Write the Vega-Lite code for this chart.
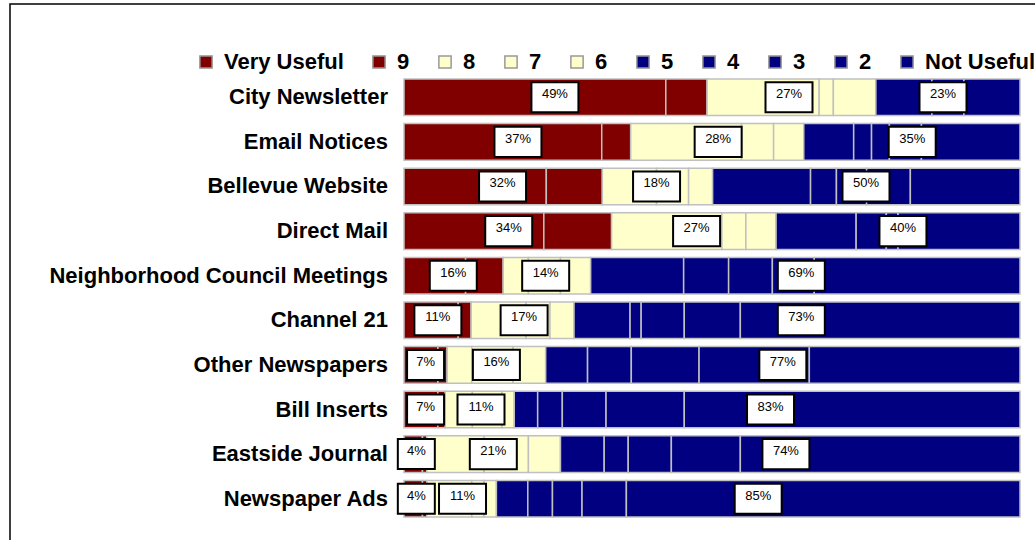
{
  "$schema": "https://vega.github.io/schema/vega-lite/v6.json",
  "width": 1025,
  "height": 536,
  "autosize": {"type": "none"},
  "padding": {"left": 10, "top": 4, "right": 0, "bottom": 0},
  "background": "white",
  "view": {"stroke": "black", "strokeWidth": 1.5, "strokeDash": [1025, 1561, 536]},
  "config": {"font": "Liberation Sans"},
  "datasets": {
    "bars": [
      {"item": "City Newsletter", "rating": "Very Useful", "score": 10, "share": 0.425},
      {"item": "City Newsletter", "rating": "9", "score": 9, "share": 0.067},
      {"item": "City Newsletter", "rating": "8", "score": 8, "share": 0.182},
      {"item": "City Newsletter", "rating": "7", "score": 7, "share": 0.023},
      {"item": "City Newsletter", "rating": "6", "score": 6, "share": 0.069},
      {"item": "City Newsletter", "rating": "5", "score": 5, "share": 0.091},
      {"item": "City Newsletter", "rating": "4", "score": 4, "share": 0.052},
      {"item": "City Newsletter", "rating": "3", "score": 3, "share": 0.0},
      {"item": "City Newsletter", "rating": "2", "score": 2, "share": 0.0},
      {"item": "City Newsletter", "rating": "Not Useful", "score": 1, "share": 0.091},

      {"item": "Email Notices", "rating": "Very Useful", "score": 10, "share": 0.321},
      {"item": "Email Notices", "rating": "9", "score": 9, "share": 0.047},
      {"item": "Email Notices", "rating": "8", "score": 8, "share": 0.180},
      {"item": "Email Notices", "rating": "7", "score": 7, "share": 0.052},
      {"item": "Email Notices", "rating": "6", "score": 6, "share": 0.049},
      {"item": "Email Notices", "rating": "5", "score": 5, "share": 0.081},
      {"item": "Email Notices", "rating": "4", "score": 4, "share": 0.029},
      {"item": "Email Notices", "rating": "3", "score": 3, "share": 0.029},
      {"item": "Email Notices", "rating": "2", "score": 2, "share": 0.052},
      {"item": "Email Notices", "rating": "Not Useful", "score": 1, "share": 0.160},

      {"item": "Bellevue Website", "rating": "Very Useful", "score": 10, "share": 0.231},
      {"item": "Bellevue Website", "rating": "9", "score": 9, "share": 0.091},
      {"item": "Bellevue Website", "rating": "8", "score": 8, "share": 0.088},
      {"item": "Bellevue Website", "rating": "7", "score": 7, "share": 0.052},
      {"item": "Bellevue Website", "rating": "6", "score": 6, "share": 0.039},
      {"item": "Bellevue Website", "rating": "5", "score": 5, "share": 0.159},
      {"item": "Bellevue Website", "rating": "4", "score": 4, "share": 0.042},
      {"item": "Bellevue Website", "rating": "3", "score": 3, "share": 0.049},
      {"item": "Bellevue Website", "rating": "2", "score": 2, "share": 0.071},
      {"item": "Bellevue Website", "rating": "Not Useful", "score": 1, "share": 0.178},

      {"item": "Direct Mail", "rating": "Very Useful", "score": 10, "share": 0.227},
      {"item": "Direct Mail", "rating": "9", "score": 9, "share": 0.110},
      {"item": "Direct Mail", "rating": "8", "score": 8, "share": 0.179},
      {"item": "Direct Mail", "rating": "7", "score": 7, "share": 0.039},
      {"item": "Direct Mail", "rating": "6", "score": 6, "share": 0.049},
      {"item": "Direct Mail", "rating": "5", "score": 5, "share": 0.130},
      {"item": "Direct Mail", "rating": "4", "score": 4, "share": 0.049},
      {"item": "Direct Mail", "rating": "3", "score": 3, "share": 0.019},
      {"item": "Direct Mail", "rating": "2", "score": 2, "share": 0.0},
      {"item": "Direct Mail", "rating": "Not Useful", "score": 1, "share": 0.198},

      {"item": "Neighborhood Council Meetings", "rating": "Very Useful", "score": 10, "share": 0.100},
      {"item": "Neighborhood Council Meetings", "rating": "9", "score": 9, "share": 0.061},
      {"item": "Neighborhood Council Meetings", "rating": "8", "score": 8, "share": 0.041},
      {"item": "Neighborhood Council Meetings", "rating": "7", "score": 7, "share": 0.052},
      {"item": "Neighborhood Council Meetings", "rating": "6", "score": 6, "share": 0.049},
      {"item": "Neighborhood Council Meetings", "rating": "5", "score": 5, "share": 0.151},
      {"item": "Neighborhood Council Meetings", "rating": "4", "score": 4, "share": 0.073},
      {"item": "Neighborhood Council Meetings", "rating": "3", "score": 3, "share": 0.071},
      {"item": "Neighborhood Council Meetings", "rating": "2", "score": 2, "share": 0.068},
      {"item": "Neighborhood Council Meetings", "rating": "Not Useful", "score": 1, "share": 0.334},

      {"item": "Channel 21", "rating": "Very Useful", "score": 10, "share": 0.088},
      {"item": "Channel 21", "rating": "9", "score": 9, "share": 0.021},
      {"item": "Channel 21", "rating": "8", "score": 8, "share": 0.089},
      {"item": "Channel 21", "rating": "7", "score": 7, "share": 0.039},
      {"item": "Channel 21", "rating": "6", "score": 6, "share": 0.039},
      {"item": "Channel 21", "rating": "5", "score": 5, "share": 0.091},
      {"item": "Channel 21", "rating": "4", "score": 4, "share": 0.018},
      {"item": "Channel 21", "rating": "3", "score": 3, "share": 0.070},
      {"item": "Channel 21", "rating": "2", "score": 2, "share": 0.091},
      {"item": "Channel 21", "rating": "Not Useful", "score": 1, "share": 0.454},

      {"item": "Other Newspapers", "rating": "Very Useful", "score": 10, "share": 0.055},
      {"item": "Other Newspapers", "rating": "9", "score": 9, "share": 0.015},
      {"item": "Other Newspapers", "rating": "8", "score": 8, "share": 0.040},
      {"item": "Other Newspapers", "rating": "7", "score": 7, "share": 0.067},
      {"item": "Other Newspapers", "rating": "6", "score": 6, "share": 0.053},
      {"item": "Other Newspapers", "rating": "5", "score": 5, "share": 0.068},
      {"item": "Other Newspapers", "rating": "4", "score": 4, "share": 0.071},
      {"item": "Other Newspapers", "rating": "3", "score": 3, "share": 0.110},
      {"item": "Other Newspapers", "rating": "2", "score": 2, "share": 0.179},
      {"item": "Other Newspapers", "rating": "Not Useful", "score": 1, "share": 0.342},

      {"item": "Bill Inserts", "rating": "Very Useful", "score": 10, "share": 0.055},
      {"item": "Bill Inserts", "rating": "9", "score": 9, "share": 0.012},
      {"item": "Bill Inserts", "rating": "8", "score": 8, "share": 0.044},
      {"item": "Bill Inserts", "rating": "7", "score": 7, "share": 0.048},
      {"item": "Bill Inserts", "rating": "6", "score": 6, "share": 0.020},
      {"item": "Bill Inserts", "rating": "5", "score": 5, "share": 0.038},
      {"item": "Bill Inserts", "rating": "4", "score": 4, "share": 0.040},
      {"item": "Bill Inserts", "rating": "3", "score": 3, "share": 0.071},
      {"item": "Bill Inserts", "rating": "2", "score": 2, "share": 0.127},
      {"item": "Bill Inserts", "rating": "Not Useful", "score": 1, "share": 0.545},

      {"item": "Eastside Journal", "rating": "Very Useful", "score": 10, "share": 0.030},
      {"item": "Eastside Journal", "rating": "9", "score": 9, "share": 0.007},
      {"item": "Eastside Journal", "rating": "8", "score": 8, "share": 0.093},
      {"item": "Eastside Journal", "rating": "7", "score": 7, "share": 0.072},
      {"item": "Eastside Journal", "rating": "6", "score": 6, "share": 0.052},
      {"item": "Eastside Journal", "rating": "5", "score": 5, "share": 0.071},
      {"item": "Eastside Journal", "rating": "4", "score": 4, "share": 0.039},
      {"item": "Eastside Journal", "rating": "3", "score": 3, "share": 0.070},
      {"item": "Eastside Journal", "rating": "2", "score": 2, "share": 0.112},
      {"item": "Eastside Journal", "rating": "Not Useful", "score": 1, "share": 0.454},

      {"item": "Newspaper Ads", "rating": "Very Useful", "score": 10, "share": 0.030},
      {"item": "Newspaper Ads", "rating": "9", "score": 9, "share": 0.007},
      {"item": "Newspaper Ads", "rating": "8", "score": 8, "share": 0.073},
      {"item": "Newspaper Ads", "rating": "7", "score": 7, "share": 0.020},
      {"item": "Newspaper Ads", "rating": "6", "score": 6, "share": 0.020},
      {"item": "Newspaper Ads", "rating": "5", "score": 5, "share": 0.051},
      {"item": "Newspaper Ads", "rating": "4", "score": 4, "share": 0.040},
      {"item": "Newspaper Ads", "rating": "3", "score": 3, "share": 0.048},
      {"item": "Newspaper Ads", "rating": "2", "score": 2, "share": 0.072},
      {"item": "Newspaper Ads", "rating": "Not Useful", "score": 1, "share": 0.639}
    ],
    "labels": [
      {"item": "City Newsletter", "grp": 1, "share": 0.49},
      {"item": "City Newsletter", "grp": 2, "share": 0.27},
      {"item": "City Newsletter", "grp": 3, "share": 0.23},
      {"item": "Email Notices", "grp": 1, "share": 0.37},
      {"item": "Email Notices", "grp": 2, "share": 0.28},
      {"item": "Email Notices", "grp": 3, "share": 0.35},
      {"item": "Bellevue Website", "grp": 1, "share": 0.32},
      {"item": "Bellevue Website", "grp": 2, "share": 0.18},
      {"item": "Bellevue Website", "grp": 3, "share": 0.50},
      {"item": "Direct Mail", "grp": 1, "share": 0.34},
      {"item": "Direct Mail", "grp": 2, "share": 0.27},
      {"item": "Direct Mail", "grp": 3, "share": 0.40},
      {"item": "Neighborhood Council Meetings", "grp": 1, "share": 0.16},
      {"item": "Neighborhood Council Meetings", "grp": 2, "share": 0.14},
      {"item": "Neighborhood Council Meetings", "grp": 3, "share": 0.69},
      {"item": "Channel 21", "grp": 1, "share": 0.11},
      {"item": "Channel 21", "grp": 2, "share": 0.17},
      {"item": "Channel 21", "grp": 3, "share": 0.73},
      {"item": "Other Newspapers", "grp": 1, "share": 0.07},
      {"item": "Other Newspapers", "grp": 2, "share": 0.16},
      {"item": "Other Newspapers", "grp": 3, "share": 0.77},
      {"item": "Bill Inserts", "grp": 1, "share": 0.07},
      {"item": "Bill Inserts", "grp": 2, "share": 0.11},
      {"item": "Bill Inserts", "grp": 3, "share": 0.83},
      {"item": "Eastside Journal", "grp": 1, "share": 0.04},
      {"item": "Eastside Journal", "grp": 2, "share": 0.21},
      {"item": "Eastside Journal", "grp": 3, "share": 0.74},
      {"item": "Newspaper Ads", "grp": 1, "share": 0.04},
      {"item": "Newspaper Ads", "grp": 2, "share": 0.11},
      {"item": "Newspaper Ads", "grp": 3, "share": 0.85}
    ]
  },
  "encoding": {
    "y": {
      "field": "item",
      "type": "nominal",
      "sort": null,
      "axis": null,
      "scale": {
        "domain": ["City Newsletter", "Email Notices", "Bellevue Website", "Direct Mail", "Neighborhood Council Meetings", "Channel 21", "Other Newspapers", "Bill Inserts", "Eastside Journal", "Newspaper Ads"],
        "range": [75, 513],
        "paddingInner": 0.18,
        "paddingOuter": 0
      }
    }
  },
  "layer": [
    {
      "data": {"name": "bars"},
      "mark": {"type": "bar", "stroke": "#C0C0C0", "strokeWidth": 1.5},
      "encoding": {
        "x": {"field": "share", "type": "quantitative", "stack": "zero", "axis": null,
              "scale": {"domain": [0, 1], "range": [394, 1010], "nice": false, "zero": true}},
        "color": {
          "field": "rating",
          "type": "nominal",
          "scale": {
            "domain": ["Very Useful", "9", "8", "7", "6", "5", "4", "3", "2", "Not Useful"],
            "range": ["#800000", "#800000", "#FFFFCC", "#FFFFCC", "#FFFFCC", "#000080", "#000080", "#000080", "#000080", "#000080"]
          },
          "legend": {
            "orient": "none",
            "legendX": 185,
            "legendY": 47,
            "direction": "horizontal",
            "title": null,
            "symbolType": "square",
            "symbolSize": 150,
            "symbolStrokeColor": "#999999",
            "symbolStrokeWidth": 1.5,
            "labelFont": "Liberation Sans",
            "labelFontSize": 22,
            "labelFontWeight": "bold",
            "labelColor": "black",
            "labelOffset": 7,
            "columnPadding": 24,
            "padding": 0,
            "labelLimit": 300
          }
        },
        "order": {"field": "score", "sort": "descending"}
      }
    },
    {
      "data": {"name": "labels"},
      "transform": [
        {"stack": "share", "groupby": ["item"], "sort": [{"field": "grp", "order": "ascending"}], "as": ["s0", "s1"]},
        {"calculate": "(datum.s0 + datum.s1) / 2", "as": "mid"}
      ],
      "layer": [
        {
          "transform": [{"filter": "datum.share >= 0.095"}],
          "mark": {"type": "point", "shape": "M-1,-0.64H1V0.64H-1Z", "size": 2209, "filled": true, "fill": "white", "stroke": "black", "strokeWidth": 2, "opacity": 1},
          "encoding": {
            "x": {"field": "mid", "type": "quantitative", "axis": null,
                  "scale": {"domain": [0, 1], "range": [394, 1010], "nice": false, "zero": true}}
          }
        },
        {
          "transform": [{"filter": "datum.share < 0.095"}],
          "mark": {"type": "point", "shape": "M-1,-0.81H1V0.81H-1Z", "size": 1369, "filled": true, "fill": "white", "stroke": "black", "strokeWidth": 2, "opacity": 1},
          "encoding": {
            "x": {"field": "mid", "type": "quantitative", "axis": null,
                  "scale": {"domain": [0, 1], "range": [394, 1010], "nice": false, "zero": true}}
          }
        },
        {
          "mark": {"type": "text", "fontSize": 13, "dy": -3, "color": "black", "font": "Liberation Sans"},
          "encoding": {
            "x": {"field": "mid", "type": "quantitative", "axis": null,
                  "scale": {"domain": [0, 1], "range": [394, 1010], "nice": false, "zero": true}},
            "text": {"field": "share", "type": "quantitative", "format": ".0%"}
          }
        }
      ]
    },
    {
      "data": {"name": "bars"},
      "transform": [{"filter": "datum.score == 10"}],
      "mark": {"type": "text", "align": "right", "baseline": "middle", "fontSize": 22, "fontWeight": "bold", "xOffset": -16, "color": "black", "font": "Liberation Sans"},
      "encoding": {
        "x": {"datum": 0, "type": "quantitative", "axis": null,
              "scale": {"domain": [0, 1], "range": [394, 1010], "nice": false, "zero": true}},
        "text": {"field": "item"}
      }
    }
  ]
}
